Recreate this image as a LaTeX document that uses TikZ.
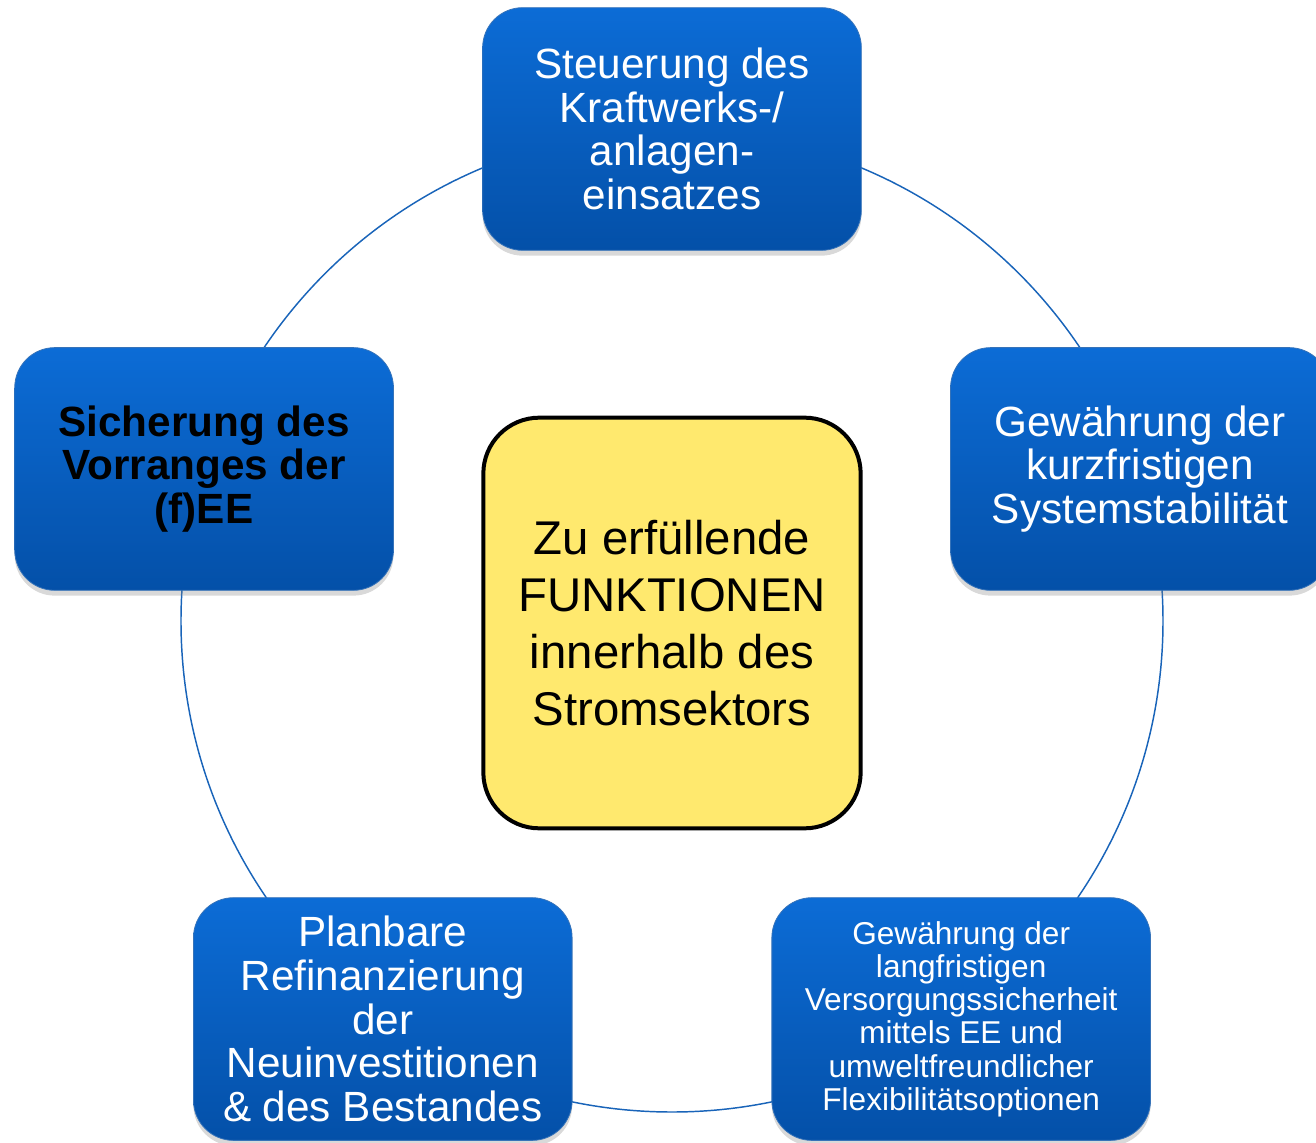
\documentclass[tikz,border=0pt]{standalone}
\usepackage{fontspec}
\setmainfont{Liberation Sans}
\usepackage{xcolor}
\usepackage{tikz}
\usetikzlibrary{shapes,shadows}
\definecolor{funcblau}{RGB}{12,108,214}
\definecolor{funcblaudunkel}{RGB}{4,80,168}
\definecolor{funcgelb}{RGB}{255,233,110}
\definecolor{ringblau}{RGB}{25,100,185}
\tikzstyle{funcBlock} = [rectangle, rounded corners=30pt, top color=funcblau, bottom color=funcblaudunkel,
    draw=funcblaudunkel!80, line width=0.6pt, text=white, align=center, inner sep=0pt,
    minimum width=284pt, minimum height=182pt, font=\fontsize{31.7}{32.8}\selectfont,
    drop shadow={shadow xshift=0pt, shadow yshift=-4pt, opacity=0.3}]
\tikzstyle{smallBlock} = [funcBlock, font=\fontsize{23.7}{24.9}\selectfont]
\tikzstyle{boldBlock} = [funcBlock, text=black, font=\fontsize{31.7}{32.8}\selectfont\bfseries]
\tikzstyle{centerBlock} = [rectangle, draw, line width=3pt, fill=funcgelb, rounded corners=42pt,
    align=center, minimum width=283pt, minimum height=308pt, font=\fontsize{35.5}{42.8}\selectfont]
\tikzstyle{ring} = [draw=ringblau, line width=1.1pt]

\begin{document}
\begin{tikzpicture}[x=0.75pt, y=0.75pt]
    \useasboundingbox (-672,621) rectangle (644,-521);
    % Place ring
    \coordinate (mitte) at (0,0);
    \path [ring] (mitte) circle (368.25pt);
    % Place nodes
    \node [centerBlock] (funktionen) at (0,-2) {Zu erfüllende\\FUNKTIONEN\\innerhalb des\\ Stromsektors};
    \node [funcBlock] (steuerung) at (90:492) {Steuerung des\\Kraftwerks-/\\anlagen-\\einsatzes};
    \node [funcBlock] (stabilitaet) at (18:492) {Gewährung der\\kurzfristigen\\Systemstabilität};
    \node [smallBlock] (versorgung) at (306:492) {Gewährung der\\langfristigen\\Versorgungssicherheit\\mittels EE und\\umweltfreundlicher\\Flexibilitätsoptionen};
    \node [funcBlock] (refinanzierung) at (234:492) {Planbare\\Refinanzierung\\der\\Neuinvestitionen\\\& des Bestandes};
    \node [boldBlock] (vorrang) at (162:492) {Sicherung des\\Vorranges der\\(f)EE};
\end{tikzpicture}
\end{document}
